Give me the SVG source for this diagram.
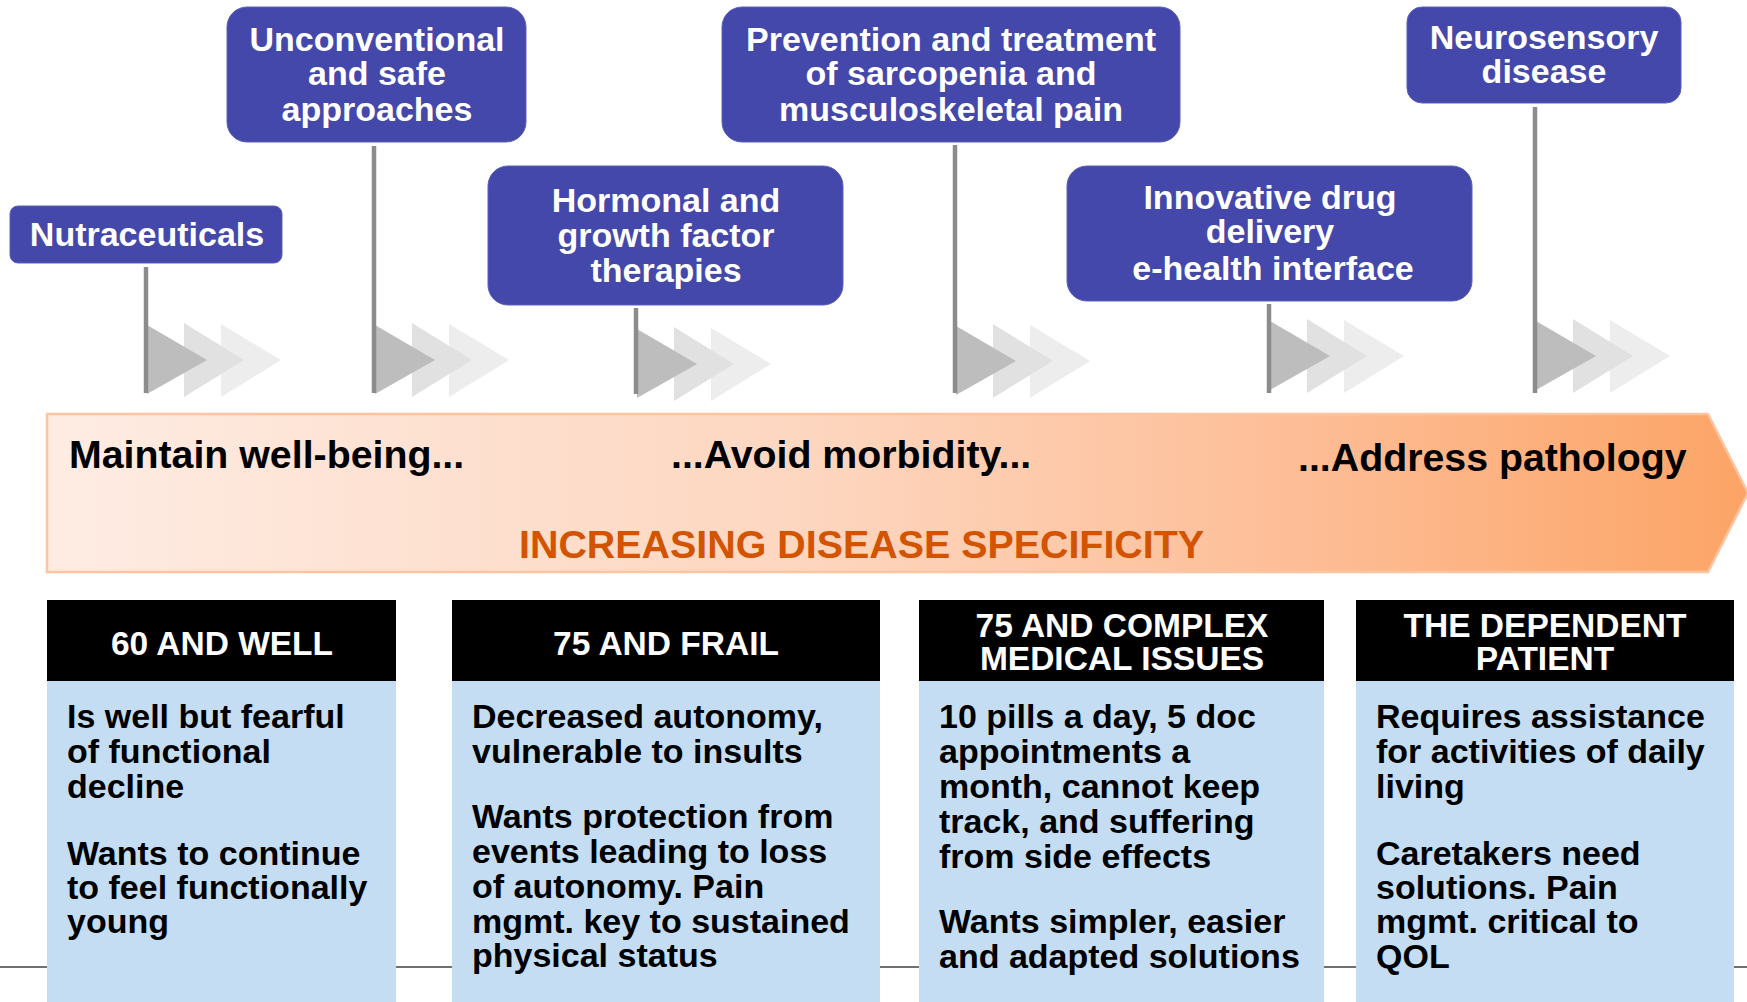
<svg xmlns="http://www.w3.org/2000/svg" width="1747" height="1002" viewBox="0 0 1747 1002">
<defs>
<style>
text{font-family:"Liberation Sans",Arial,Helvetica,sans-serif;font-weight:bold}
.box{fill:#4448aa;stroke:#5a5fb8;stroke-width:1}
.bt{fill:#ffffff;font-size:34px;text-anchor:middle}
.band{fill:#000000;font-size:39.3px}
.spec{fill:#d35400;font-size:39.4px}
.hdr{fill:#000000}
.ht{fill:#ffffff;font-size:33.5px;text-anchor:middle}
.body{fill:#c4ddf3}
.tx{fill:#000000;font-size:34px}
.stem{stroke:#8c8c8c;stroke-width:4.5;fill:none}
.t1{fill:#bdbdbd}
.t2{fill:#e1e1e1}
.t3{fill:#ededed}
</style>
<linearGradient id="bandGrad" x1="0" y1="0" x2="1" y2="0">
<stop offset="0" stop-color="#feece3"/>
<stop offset="0.45" stop-color="#fdd6bf"/>
<stop offset="0.75" stop-color="#fdbc94"/>
<stop offset="1" stop-color="#fca466"/>
</linearGradient>
<g id="chev">
<polygon class="t3" points="75,-36 135,0 75,37"/>
<polygon class="t2" points="38,-37 98,0 38,37"/>
<polygon class="t1" points="1,-35 61,0 1,34"/>
</g>
</defs>
<rect width="1747" height="1002" fill="#ffffff"/>

<!-- baseline rule behind bottom boxes -->
<line x1="0" y1="967" x2="1747" y2="967" stroke="#404040" stroke-width="1.5"/>

<!-- band -->
<g id="band">
<polygon points="47,414 1708,414 1748,493 1708,572 47,572" fill="url(#bandGrad)" stroke="#fcc4a0" stroke-width="2.5"/>
<text class="band" x="69" y="468">Maintain well-being...</text>
<text class="band" x="671" y="468">...Avoid morbidity...</text>
<text class="band" x="1298" y="471">...Address pathology</text>
<text class="spec" x="519" y="558">INCREASING DISEASE SPECIFICITY</text>
</g>

<!-- connectors -->
<g id="connectors">
<use href="#chev" x="146" y="360"/>
<line class="stem" x1="146" y1="267" x2="146" y2="393"/>
<use href="#chev" x="374" y="360"/>
<line class="stem" x1="374" y1="146" x2="374" y2="393"/>
<use href="#chev" x="636" y="364"/>
<line class="stem" x1="636" y1="308" x2="636" y2="394"/>
<use href="#chev" x="955" y="361"/>
<line class="stem" x1="955" y1="145" x2="955" y2="393"/>
<use href="#chev" x="1269" y="356"/>
<line class="stem" x1="1269" y1="304" x2="1269" y2="393"/>
<use href="#chev" x="1535" y="356"/>
<line class="stem" x1="1535" y1="107" x2="1535" y2="393"/>
</g>

<!-- top nodes -->
<g id="node-nutraceuticals">
<rect class="box" x="10" y="206" width="272" height="57" rx="8"/>
<text class="bt" x="147" y="246">Nutraceuticals</text>
</g>
<g id="node-unconventional">
<rect class="box" x="227" y="7" width="299" height="135" rx="20"/>
<text class="bt" x="377" y="51">Unconventional</text>
<text class="bt" x="377" y="85">and safe</text>
<text class="bt" x="377" y="121">approaches</text>
</g>
<g id="node-hormonal">
<rect class="box" x="488" y="166" width="355" height="139" rx="20"/>
<text class="bt" x="666" y="212">Hormonal and</text>
<text class="bt" x="666" y="247">growth factor</text>
<text class="bt" x="666" y="282">therapies</text>
</g>
<g id="node-prevention">
<rect class="box" x="722" y="7" width="458" height="135" rx="20"/>
<text class="bt" x="951" y="51">Prevention and treatment</text>
<text class="bt" x="951" y="85">of sarcopenia and</text>
<text class="bt" x="951" y="121">musculoskeletal pain</text>
</g>
<g id="node-innovative">
<rect class="box" x="1067" y="166" width="405" height="135" rx="20"/>
<text class="bt" x="1270" y="209">Innovative drug</text>
<text class="bt" x="1270" y="243">delivery</text>
<text class="bt" x="1273" y="280">e-health interface</text>
</g>
<g id="node-neurosensory">
<rect class="box" x="1407" y="7" width="274" height="96" rx="15"/>
<text class="bt" x="1544" y="49">Neurosensory</text>
<text class="bt" x="1544" y="83">disease</text>
</g>

<!-- bottom nodes -->
<g id="node-60-well">
<rect class="body" x="47" y="681" width="349" height="321"/>
<rect class="hdr" x="47" y="600" width="349" height="81"/>
<text class="ht" x="222" y="655">60 AND WELL</text>
<text class="tx" x="67" y="728">Is well but fearful</text>
<text class="tx" x="67" y="763">of functional</text>
<text class="tx" x="67" y="798">decline</text>
<text class="tx" x="67" y="865">Wants to continue</text>
<text class="tx" x="67" y="899">to feel functionally</text>
<text class="tx" x="67" y="933">young</text>
</g>
<g id="node-75-frail">
<rect class="body" x="452" y="681" width="428" height="321"/>
<rect class="hdr" x="452" y="600" width="428" height="81"/>
<text class="ht" x="666" y="655">75 AND FRAIL</text>
<text class="tx" x="472" y="728">Decreased autonomy,</text>
<text class="tx" x="472" y="763">vulnerable to insults</text>
<text class="tx" x="472" y="828">Wants protection from</text>
<text class="tx" x="472" y="863">events leading to loss</text>
<text class="tx" x="472" y="898">of autonomy. Pain</text>
<text class="tx" x="472" y="933">mgmt. key to sustained</text>
<text class="tx" x="472" y="967">physical status</text>
</g>
<g id="node-75-complex">
<rect class="body" x="919" y="681" width="405" height="321"/>
<rect class="hdr" x="919" y="600" width="405" height="81"/>
<text class="ht" x="1122" y="637">75 AND COMPLEX</text>
<text class="ht" x="1122" y="670">MEDICAL ISSUES</text>
<text class="tx" x="939" y="728">10 pills a day, 5 doc</text>
<text class="tx" x="939" y="763">appointments a</text>
<text class="tx" x="939" y="798">month, cannot keep</text>
<text class="tx" x="939" y="833">track, and suffering</text>
<text class="tx" x="939" y="868">from side effects</text>
<text class="tx" x="939" y="933">Wants simpler, easier</text>
<text class="tx" x="939" y="968">and adapted solutions</text>
</g>
<g id="node-dependent">
<rect class="body" x="1356" y="681" width="378" height="321"/>
<rect class="hdr" x="1356" y="600" width="378" height="81"/>
<text class="ht" x="1545" y="637">THE DEPENDENT</text>
<text class="ht" x="1545" y="670">PATIENT</text>
<text class="tx" x="1376" y="728">Requires assistance</text>
<text class="tx" x="1376" y="763">for activities of daily</text>
<text class="tx" x="1376" y="798">living</text>
<text class="tx" x="1376" y="865">Caretakers need</text>
<text class="tx" x="1376" y="899">solutions. Pain</text>
<text class="tx" x="1376" y="933">mgmt. critical to</text>
<text class="tx" x="1376" y="968">QOL</text>
</g>
</svg>
